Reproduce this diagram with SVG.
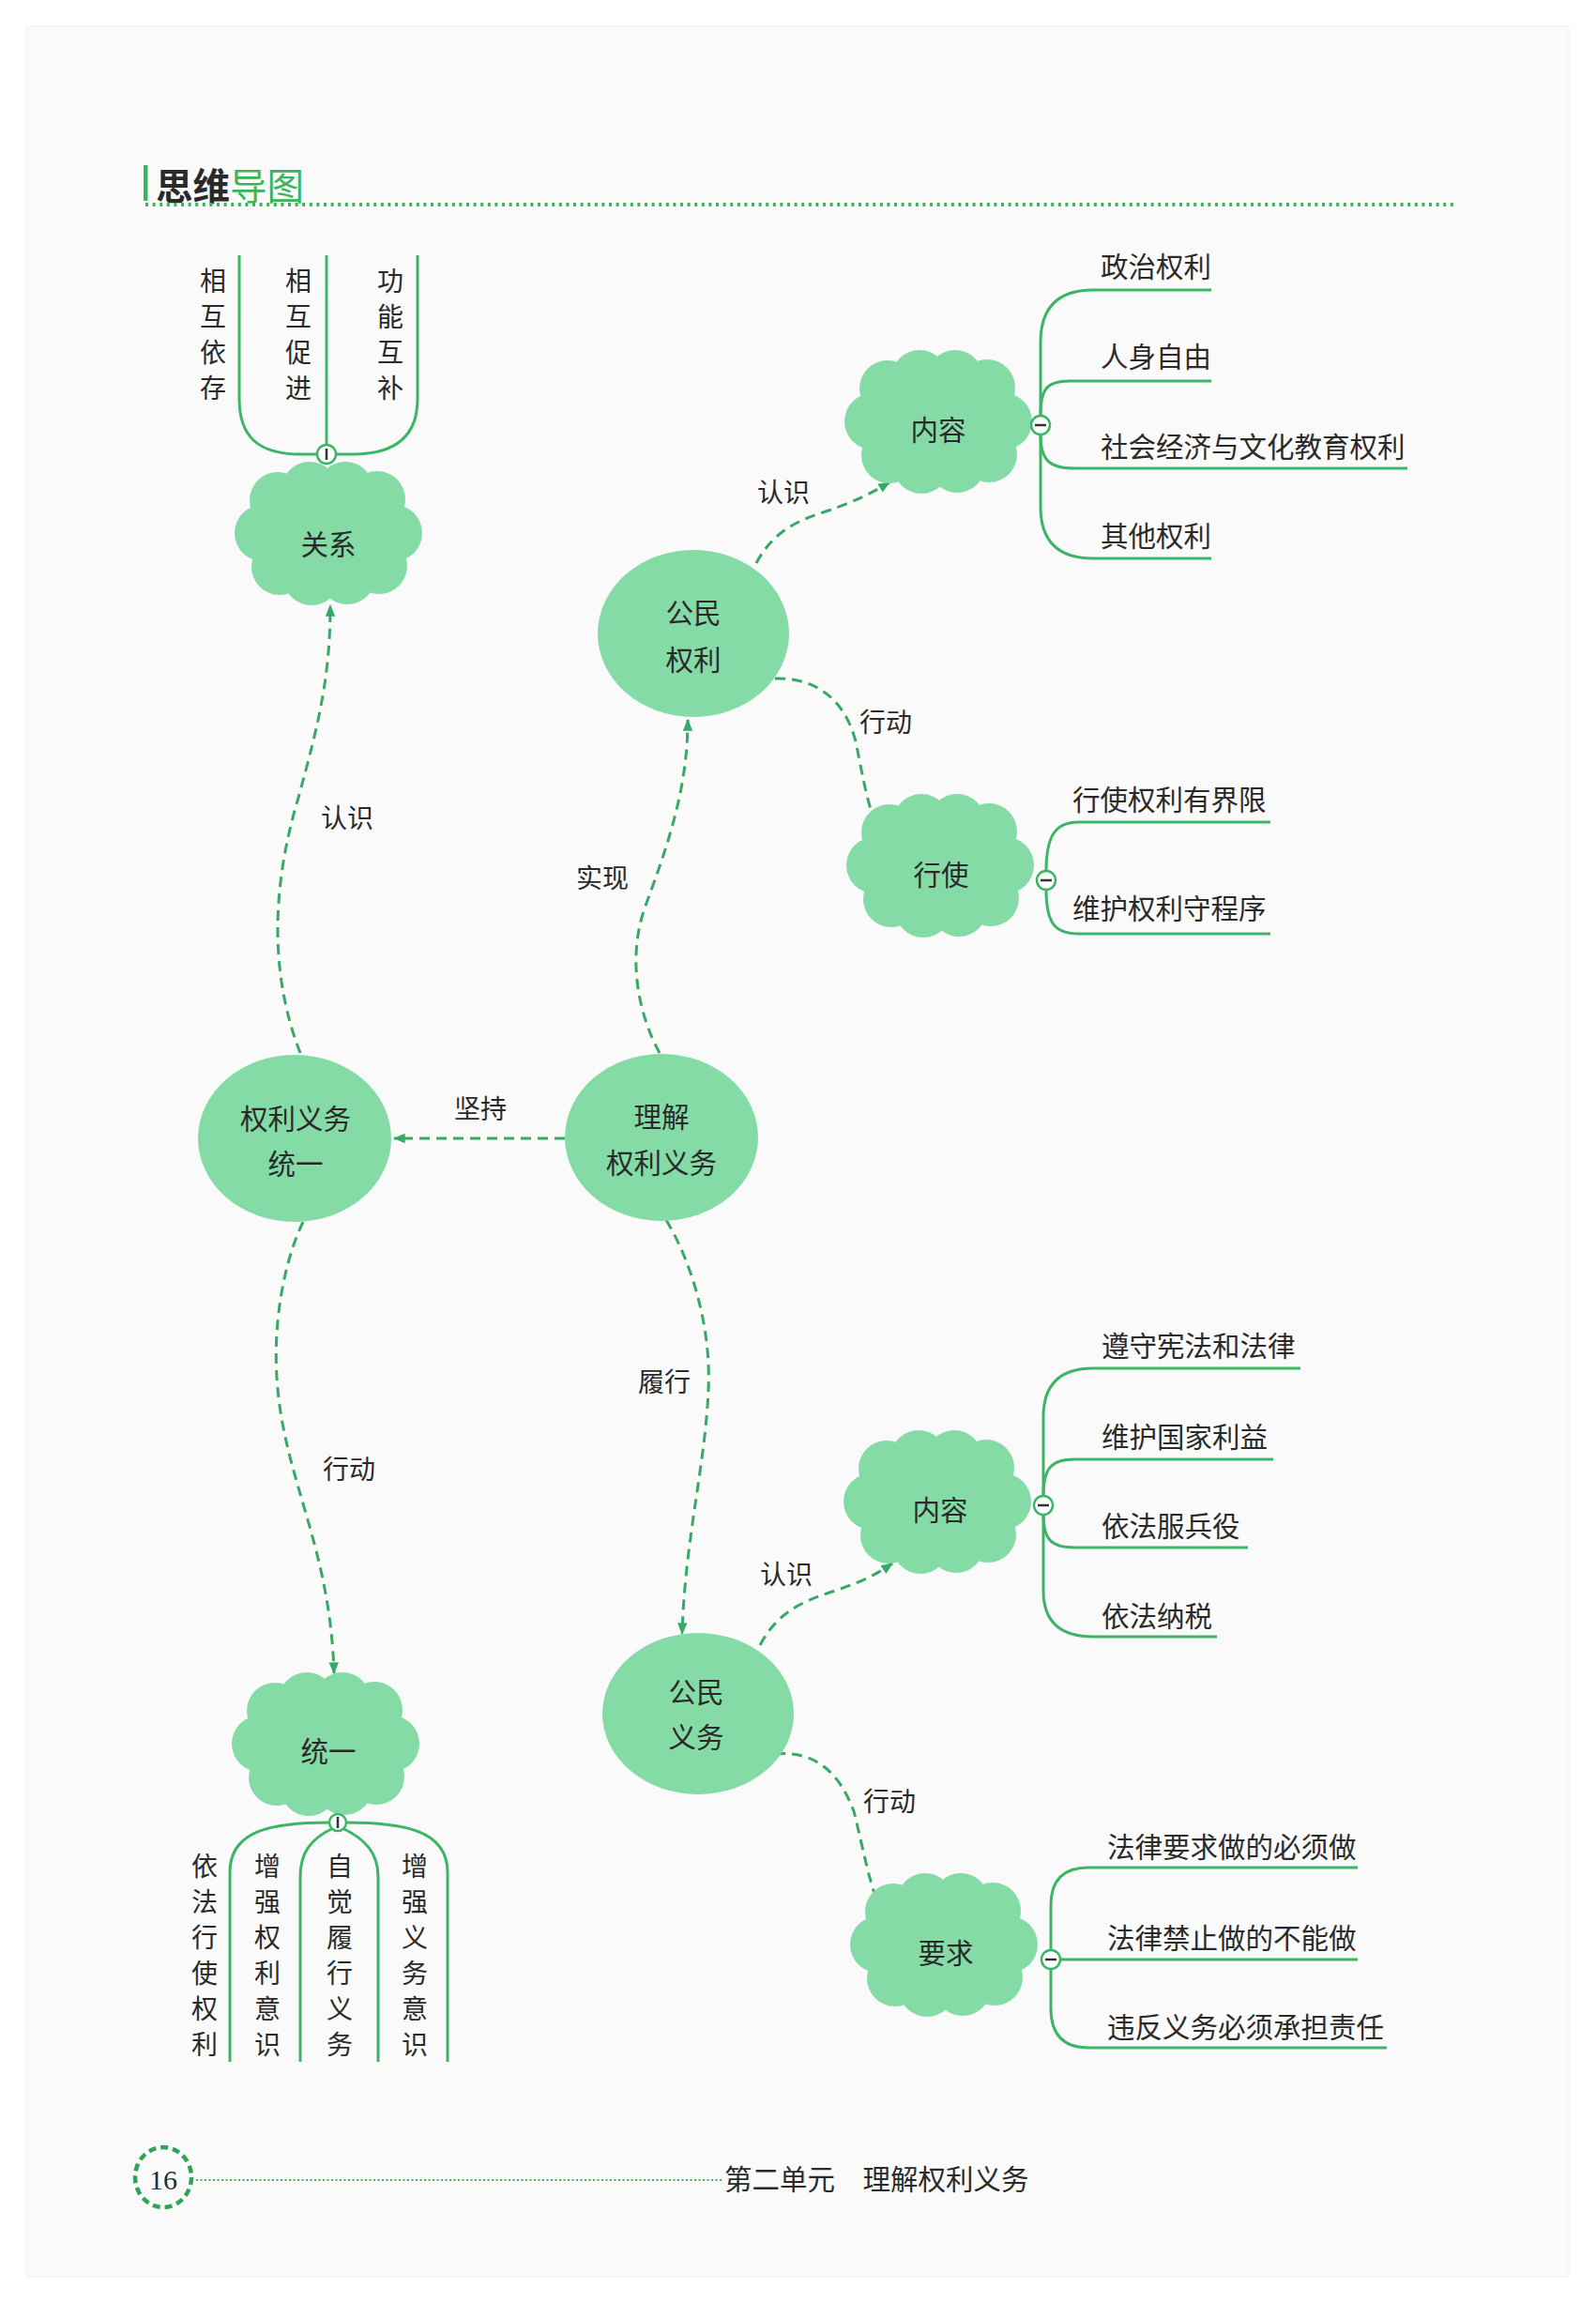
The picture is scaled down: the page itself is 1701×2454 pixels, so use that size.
<svg xmlns="http://www.w3.org/2000/svg" xmlns:xlink="http://www.w3.org/1999/xlink" width="1701" height="2454" viewBox="0 0 1701 2454">
<style>
text{font-family:"Noto Sans CJK SC","Noto Sans",sans-serif;fill:#2a2a2a;dominant-baseline:central;}
.nt{font-size:29.5px;text-anchor:middle;}
.lb{font-size:28px;text-anchor:middle;}
.bt{font-size:29.5px;text-anchor:start;}
.vt{font-size:28px;text-anchor:middle;}
.cl{fill:#84dba6;}
.ov{fill:#84dba6;}
.dash{fill:none;stroke:#36a965;stroke-width:3;stroke-dasharray:11 7;marker-end:url(#arr);}
.br{fill:none;stroke:#3db567;stroke-width:3;}
.knob{fill:#ffffff;stroke:#3db567;stroke-width:2.5;}
.tick{stroke:#333;stroke-width:2.5;}
</style>
<defs>
<marker id="arr" viewBox="0 0 10 10" refX="9" refY="5" markerWidth="13" markerHeight="13" markerUnits="userSpaceOnUse" orient="auto">
<path d="M0,1 L10,5 L0,9 z" fill="#36a965"/>
</marker>
<g id="cloud" class="cl">
<ellipse cx="0" cy="0" rx="86" ry="62"/>
<circle cx="70" cy="0" r="30"/>
<circle cx="52" cy="-36" r="30"/>
<circle cx="18" cy="-46" r="30"/>
<circle cx="-20" cy="-46" r="30"/>
<circle cx="-54" cy="-35" r="30"/>
<circle cx="-70" cy="0" r="30"/>
<circle cx="-52" cy="36" r="30"/>
<circle cx="-18" cy="47" r="30"/>
<circle cx="20" cy="46" r="30"/>
<circle cx="54" cy="35" r="30"/>
</g>
</defs>
<rect x="0" y="0" width="1701" height="2454" fill="#ffffff"/>
<rect x="28" y="28" width="1644" height="2398" fill="#fafafa" stroke="#f0f0f0" stroke-width="1"/>

<g id="title">
<rect x="153" y="176" width="4.5" height="38" fill="#3cb55a"/>
<text x="166" y="195" style="font-size:39.5px;font-weight:bold;text-anchor:start;">思维<tspan style="fill:#3cb55a;font-weight:normal;">导图</tspan></text>
<line x1="155" y1="218" x2="1549" y2="218" stroke="#3cb55a" stroke-width="4" stroke-dasharray="3 4.6"/>
</g>

<g id="connectors">
<path class="dash" d="M 320 1122 C 292 1050, 285 960, 318 850 C 340 770, 352 720, 352 645"/>
<path class="dash" d="M 703 1122 C 680 1080, 668 1020, 688 965 C 712 900, 733 840, 733 767"/>
<path class="dash" d="M 806 600 C 825 565, 850 555, 880 545 C 910 535, 930 525, 948 514"/>
<path class="dash" d="M 826 723 C 870 722, 900 745, 912 790 C 920 830, 925 860, 935 880"/>
<path class="dash" d="M 602 1213 L 420 1213"/>
<path class="dash" d="M 710 1300 C 740 1350, 758 1420, 755 1480 C 752 1560, 730 1640, 727 1741"/>
<path class="dash" d="M 323 1302 C 300 1350, 290 1420, 296 1480 C 305 1580, 352 1650, 356 1783"/>
<path class="dash" d="M 810 1753 C 830 1715, 860 1705, 890 1695 C 920 1685, 935 1677, 951 1666"/>
<path class="dash" d="M 826 1869 C 870 1865, 895 1890, 910 1930 C 920 1970, 925 2000, 936 2029"/>
<text class="lb" x="370" y="870">认识</text>
<text class="lb" x="642" y="934">实现</text>
<text class="lb" x="835" y="523">认识</text>
<text class="lb" x="944" y="768">行动</text>
<text class="lb" x="512" y="1180">坚持</text>
<text class="lb" x="708" y="1471">履行</text>
<text class="lb" x="372" y="1564">行动</text>
<text class="lb" x="838" y="1676">认识</text>
<text class="lb" x="948" y="1918">行动</text>
</g>

<g id="node-guanxi">
<use xlink:href="#cloud" href="#cloud" x="350" y="568"/>
<text class="nt" x="350" y="578">关系</text>
<path class="br" d="M 348 474 L 348 272"/>
<path class="br" d="M 338 484 L 320 484 C 275 484, 255 465, 255 425 L 255 272"/>
<path class="br" d="M 358 484 L 376 484 C 421 484, 445 465, 445 425 L 445 272"/>
<circle class="knob" cx="348" cy="484" r="10"/>
<line class="tick" x1="348" y1="478" x2="348" y2="490"/>
<text class="vt"><tspan x="227" y="298">相</tspan><tspan x="227" y="336">互</tspan><tspan x="227" y="374">依</tspan><tspan x="227" y="412">存</tspan></text>
<text class="vt"><tspan x="318" y="298">相</tspan><tspan x="318" y="336">互</tspan><tspan x="318" y="374">促</tspan><tspan x="318" y="412">进</tspan></text>
<text class="vt"><tspan x="416" y="298">功</tspan><tspan x="416" y="336">能</tspan><tspan x="416" y="374">互</tspan><tspan x="416" y="412">补</tspan></text>
</g>

<g id="node-gongmin-quanli">
<ellipse class="ov" cx="739" cy="675" rx="102" ry="89"/>
<text class="nt" x="739" y="651">公民</text>
<text class="nt" x="739" y="701">权利</text>
</g>

<g id="node-quanli-neirong">
<use xlink:href="#cloud" href="#cloud" x="1000" y="449"/>
<text class="nt" x="1000" y="456">内容</text>
<path class="br" d="M 1109 443 L 1109 365 Q 1109 309 1165 309 L 1291 309"/>
<path class="br" d="M 1109 443 C 1109 415, 1115 406, 1140 406 L 1291 406"/>
<path class="br" d="M 1109 463 C 1109 490, 1118 499, 1145 499 L 1500 499"/>
<path class="br" d="M 1109 463 L 1109 540 Q 1109 595 1165 595 L 1291 595"/>
<circle class="knob" cx="1109" cy="453" r="10"/>
<line class="tick" x1="1103" y1="453" x2="1115" y2="453"/>
<text class="bt" x="1173" y="282">政治权利</text>
<text class="bt" x="1173" y="378">人身自由</text>
<text class="bt" x="1173" y="474">社会经济与文化教育权利</text>
<text class="bt" x="1173" y="569">其他权利</text>
</g>

<g id="node-xingshi">
<use xlink:href="#cloud" href="#cloud" x="1002" y="922"/>
<text class="nt" x="1003" y="930">行使</text>
<path class="br" d="M 1115 928 C 1115 890, 1125 876, 1150 876 L 1354 876"/>
<path class="br" d="M 1115 948 C 1115 985, 1125 995, 1150 995 L 1354 995"/>
<circle class="knob" cx="1115" cy="938" r="10"/>
<line class="tick" x1="1109" y1="938" x2="1121" y2="938"/>
<text class="bt" x="1143" y="850">行使权利有界限</text>
<text class="bt" x="1143" y="966">维护权利守程序</text>
</g>

<g id="node-tongyi-main">
<ellipse class="ov" cx="314" cy="1213" rx="103" ry="89"/>
<text class="nt" x="315" y="1190">权利义务</text>
<text class="nt" x="315" y="1238">统一</text>
</g>

<g id="node-lijie">
<ellipse class="ov" cx="705" cy="1212" rx="103" ry="89"/>
<text class="nt" x="705" y="1188">理解</text>
<text class="nt" x="705" y="1237">权利义务</text>
</g>

<g id="node-gongmin-yiwu">
<ellipse class="ov" cx="744" cy="1826" rx="102" ry="86"/>
<text class="nt" x="742" y="1801">公民</text>
<text class="nt" x="742" y="1849">义务</text>
</g>

<g id="node-yiwu-neirong">
<use xlink:href="#cloud" href="#cloud" x="999" y="1600"/>
<text class="nt" x="1002" y="1607">内容</text>
<path class="br" d="M 1112 1594 L 1112 1510 Q 1112 1458 1165 1458 L 1386 1458"/>
<path class="br" d="M 1112 1594 C 1112 1565, 1120 1555, 1145 1555 L 1357 1555"/>
<path class="br" d="M 1112 1614 C 1112 1640, 1120 1649, 1145 1649 L 1330 1649"/>
<path class="br" d="M 1112 1614 L 1112 1695 Q 1112 1744 1165 1744 L 1297 1744"/>
<circle class="knob" cx="1112" cy="1604" r="10"/>
<line class="tick" x1="1106" y1="1604" x2="1118" y2="1604"/>
<text class="bt" x="1174" y="1432">遵守宪法和法律</text>
<text class="bt" x="1174" y="1529">维护国家利益</text>
<text class="bt" x="1174" y="1624">依法服兵役</text>
<text class="bt" x="1174" y="1720">依法纳税</text>
</g>

<g id="node-yaoqiu">
<use xlink:href="#cloud" href="#cloud" x="1006" y="2072"/>
<text class="nt" x="1008" y="2079">要求</text>
<path class="br" d="M 1120 2078 L 1120 2030 Q 1120 1990 1160 1990 L 1447 1990"/>
<path class="br" d="M 1130 2088 L 1447 2088"/>
<path class="br" d="M 1120 2098 L 1120 2140 Q 1120 2182 1160 2182 L 1478 2182"/>
<circle class="knob" cx="1120" cy="2088" r="10"/>
<line class="tick" x1="1114" y1="2088" x2="1126" y2="2088"/>
<text class="bt" x="1180" y="1966">法律要求做的必须做</text>
<text class="bt" x="1180" y="2063">法律禁止做的不能做</text>
<text class="bt" x="1180" y="2158">违反义务必须承担责任</text>
</g>

<g id="node-tongyi">
<use xlink:href="#cloud" href="#cloud" x="347" y="1858"/>
<text class="nt" x="350" y="1864">统一</text>
<path class="br" d="M 352 1942 C 290 1942, 245 1950, 245 1995 L 245 2197"/>
<path class="br" d="M 355 1948 C 330 1960, 320 1975, 320 2000 L 320 2197"/>
<path class="br" d="M 365 1948 C 390 1960, 403 1975, 403 2000 L 403 2197"/>
<path class="br" d="M 368 1942 C 430 1942, 477 1950, 477 1995 L 477 2197"/>
<circle class="knob" cx="360" cy="1942" r="9"/>
<line class="tick" x1="360" y1="1936" x2="360" y2="1948"/>
<text class="vt"><tspan x="218" y="1987">依</tspan><tspan x="218" y="2025">法</tspan><tspan x="218" y="2063">行</tspan><tspan x="218" y="2101">使</tspan><tspan x="218" y="2139">权</tspan><tspan x="218" y="2177">利</tspan></text>
<text class="vt"><tspan x="285" y="1987">增</tspan><tspan x="285" y="2025">强</tspan><tspan x="285" y="2063">权</tspan><tspan x="285" y="2101">利</tspan><tspan x="285" y="2139">意</tspan><tspan x="285" y="2177">识</tspan></text>
<text class="vt"><tspan x="362" y="1987">自</tspan><tspan x="362" y="2025">觉</tspan><tspan x="362" y="2063">履</tspan><tspan x="362" y="2101">行</tspan><tspan x="362" y="2139">义</tspan><tspan x="362" y="2177">务</tspan></text>
<text class="vt"><tspan x="442" y="1987">增</tspan><tspan x="442" y="2025">强</tspan><tspan x="442" y="2063">义</tspan><tspan x="442" y="2101">务</tspan><tspan x="442" y="2139">意</tspan><tspan x="442" y="2177">识</tspan></text>
</g>

<g id="footer">
<ellipse cx="174" cy="2320" rx="30" ry="32" fill="none" stroke="#2fa452" stroke-width="4.5" stroke-dasharray="8 5"/>
<text x="174" y="2322" style="font-family:'Liberation Serif',serif;font-size:30px;text-anchor:middle;">16</text>
<line x1="209" y1="2323" x2="770" y2="2323" stroke="#3cb55a" stroke-width="2" stroke-dasharray="2 2.5"/>
<text x="772" y="2320" style="font-size:29.5px;text-anchor:start;">第二单元　理解权利义务</text>
</g>
</svg>
